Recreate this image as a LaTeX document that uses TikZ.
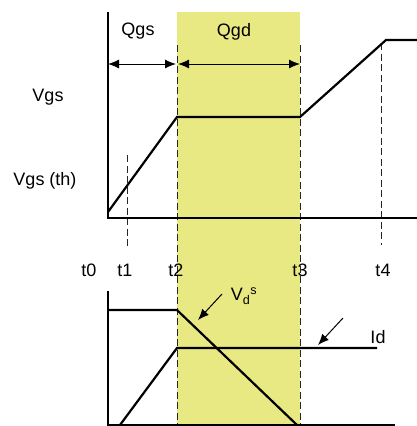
\documentclass[tikz,border=0pt]{standalone}
\usepackage{fontspec}
\setmainfont{Liberation Sans}
\usetikzlibrary{arrows.meta}
\definecolor{qgdfill}{RGB}{233,233,132}
\tikzset{
  axis/.style={line width=2.2pt},
  curve/.style={line width=2.2pt},
  tline/.style={line width=1pt, dash pattern=on 7pt off 3.5pt, black!85},
  dim/.style={line width=1pt, {Latex[length=11pt,width=9pt]}-{Latex[length=11pt,width=9pt]}},
  pointer/.style={line width=1pt, -{Latex[length=11pt,width=9pt]}},
  lbl/.style={inner sep=0pt, font=\fontsize{18}{21}\selectfont}
}
\begin{document}
\begin{tikzpicture}[x=1pt,y=-1pt]
\useasboundingbox (0,0) rectangle (417,426);
% shaded region
\fill[qgdfill] (177,12) rectangle (300,425);
% time markers
\draw[tline] (127,155) -- (127,247);
\draw[tline] (177,45) -- (177,425);
\draw[tline] (300,45) -- (300,425);
\draw[tline] (381,43) -- (381,245);
% top axes
\coordinate (o1) at (108,218);
\draw[axis] (108,12) -- (o1) -- (417,218);
% Vgs curve
\coordinate (v0) at (108,212);
\coordinate (v1) at (177,117);
\coordinate (v2) at (300,117);
\coordinate (v3) at (386,40);
\coordinate (v4) at (417,40);
\draw[curve] (v0) -- (v1) -- (v2) -- (v3) -- (v4);
% charge arrows
\coordinate (a0) at (108,64);
\coordinate (a1) at (177,64);
\coordinate (a2) at (300,64);
\draw[dim] (a0) -- (176,64);
\draw[dim] (178,64) -- (a2);
\node[lbl] (qgs) at (138,31) {Qgs};
\node[lbl] (qgd) at (234,32) {Qgd};
\node[lbl] (vgs) at (48,97) {Vgs};
\node[lbl] (vgsth) at (45,181) {Vgs (th)};
% time labels
\node[lbl] (t0) at (89,270) {t0};
\node[lbl] (t1) at (125,270) {t1};
\node[lbl] (t2) at (176,270) {t2};
\node[lbl] (t3) at (300,270) {t3};
\node[lbl] (t4) at (383,270) {t4};
% bottom axes
\draw[axis] (108,291) -- (108,425) -- (395,425);
% Vds curve
\coordinate (d0) at (108,310);
\coordinate (d1) at (177,310);
\coordinate (d2) at (297,425);
\draw[curve] (d0) -- (d1) -- (d2);
% Id curve
\coordinate (i0) at (120,425);
\coordinate (i1) at (177,348);
\coordinate (i2) at (377,348);
\draw[curve] (i0) -- (i1) -- (i2);
% labels with pointers
\node[lbl] (vds) at (244,296) {V\textsubscript{d}\textsuperscript{s}};
\coordinate (pv0) at (222,294);
\coordinate (pv1) at (198,320);
\draw[pointer] (pv0) -- (pv1);
\node[lbl] (id) at (378,337) {Id};
\coordinate (pi0) at (343,318);
\coordinate (pi1) at (318,345);
\draw[pointer] (pi0) -- (pi1);
\end{tikzpicture}
\end{document}
